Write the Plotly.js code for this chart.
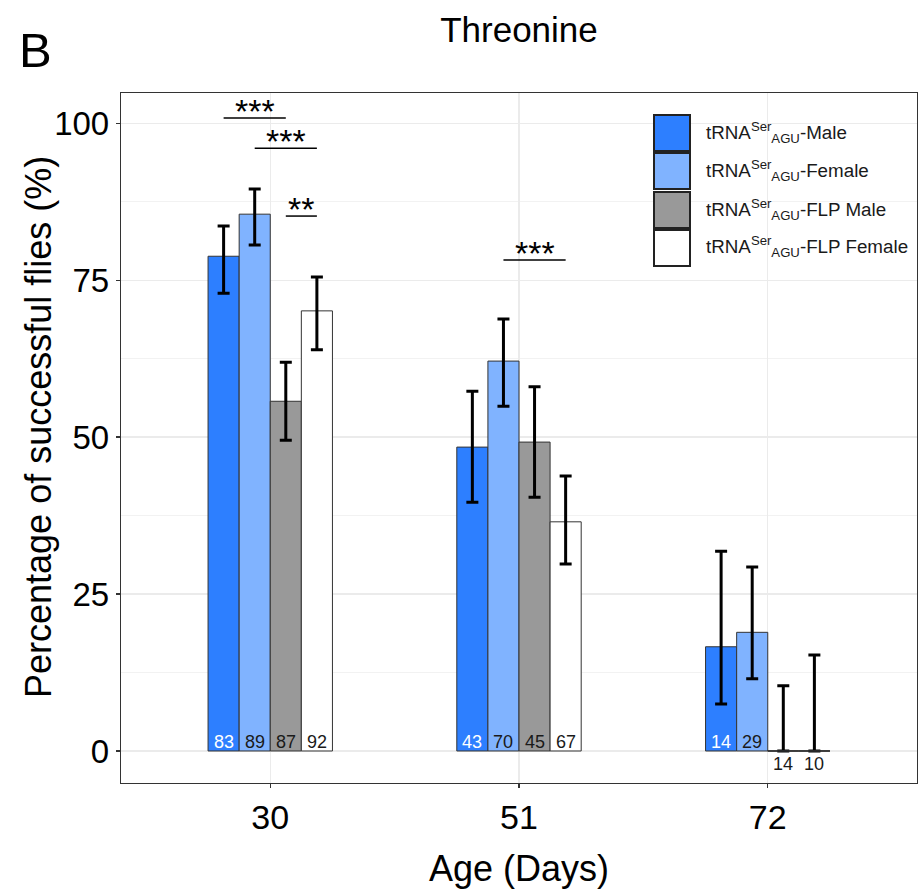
<!DOCTYPE html>
<html>
<head>
<meta charset="utf-8">
<script src="https://cdn.plot.ly/plotly-3.0.1.min.js"></script>
<style>html,body{margin:0;padding:0;background:#fff;}#chart{width:918px;height:893px;}</style>
</head>
<body>
<div id="chart"></div>
<script>
// ---- data ----
var ages = ['30', '51', '72'];
var groupNames = ['tRNA<sup>Ser</sup><sub>AGU</sub>-Male', 'tRNA<sup>Ser</sup><sub>AGU</sub>-Female',
                  'tRNA<sup>Ser</sup><sub>AGU</sub>-FLP Male', 'tRNA<sup>Ser</sup><sub>AGU</sub>-FLP Female'];
var maleVals = [78.8, 48.4, 16.6];
var maleLow = [72.9, 39.6, 7.5];
var maleHigh = [83.6, 57.3, 31.8];
var femaleVals = [85.5, 62.1, 18.9];
var femaleLow = [80.6, 54.9, 11.5];
var femaleHigh = [89.5, 68.8, 29.3];
var flpMaleVals = [55.7, 49.2, 0];
var flpMaleLow = [49.5, 40.4, 0];
var flpMaleHigh = [61.9, 58.0, 10.4];
var flpFemaleVals = [70.1, 36.5, 0];
var flpFemaleLow = [63.9, 29.8, 0];
var flpFemaleHigh = [75.5, 43.8, 15.3];
var maleN = [83, 43, 14];
var femaleN = [89, 70, 29];
var flpMaleN = [87, 45, 14];
var flpFemaleN = [92, 67, 10];
// significance: [age index, group a, group b, bracket height, label]
var sigAge = [0, 0, 0, 1];
var sigFrom = [0, 1, 2, 1];
var sigTo = [2, 3, 3, 3];
var sigY = [100.8, 96.0, 85.2, 78.2];
var sigLabel = ['***', '***', '**', '***'];

// ---- styles ----
var colors = ['#2D7FFF', '#80B3FF', '#999999', '#FFFFFF'];
var labelColors = ['#FFFFFF', '#1a1a1a', '#1a1a1a', '#1a1a1a'];
var FONT = 'Liberation Sans, Arial, Helvetica, sans-serif';
var bargap = 0.5;
var nG = 4;
var barW = (1 - bargap) / nG;
function off(j) { return -(1 - bargap) / 2 + barW * (j + 0.5); }

var vals = [maleVals, femaleVals, flpMaleVals, flpFemaleVals];
var lows = [maleLow, femaleLow, flpMaleLow, flpFemaleLow];
var highs = [maleHigh, femaleHigh, flpMaleHigh, flpFemaleHigh];
var ns = [maleN, femaleN, flpMaleN, flpFemaleN];

var traces = [];
for (var g = 0; g < nG; g++) {
  traces.push({
    type: 'bar', x: ages, y: vals[g], name: groupNames[g],
    marker: {color: colors[g], line: {color: '#333333', width: 1}},
    error_y: {type: 'data', symmetric: false,
      array: highs[g].map(function (h, i) { return h - vals[g][i]; }),
      arrayminus: lows[g].map(function (l, i) { return vals[g][i] - l; }),
      color: '#000000', thickness: 3, width: 6},
    showlegend: false, hoverinfo: 'x+y'
  });
}

var PL = 121, PR = 917, PT = 93, PB = 783;
function pxX(p) { return (p - PL) / (PR - PL); }
function pxY(p) { return (PB - p) / (PB - PT); }

var shapes = [], annotations = [];
// n labels
for (var g2 = 0; g2 < nG; g2++) {
  for (var i = 0; i < ages.length; i++) {
    var zero = vals[g2][i] === 0;
    annotations.push({
      xref: 'x', yref: 'y', x: i + off(g2), y: 0,
      text: String(ns[g2][i]), showarrow: false,
      yanchor: zero ? 'top' : 'bottom', yshift: zero ? -1 : -3,
      font: {family: FONT, size: 18, color: zero ? '#1a1a1a' : labelColors[g2]}
    });
    if (zero) {
      shapes.push({type: 'line', xref: 'x', yref: 'y',
        x0: i + off(g2) - barW / 2, x1: i + off(g2) + barW / 2, y0: 0, y1: 0,
        line: {color: '#333333', width: 1.5}});
    }
  }
}
// significance brackets
for (var s = 0; s < sigY.length; s++) {
  var xa = sigAge[s] + off(sigFrom[s]), xb = sigAge[s] + off(sigTo[s]);
  shapes.push({type: 'line', xref: 'x', yref: 'y', x0: xa, x1: xb, y0: sigY[s], y1: sigY[s],
    line: {color: '#000000', width: 1.5}});
  annotations.push({xref: 'x', yref: 'y', x: (xa + xb) / 2, y: sigY[s], text: sigLabel[s],
    showarrow: false, yanchor: 'bottom', yshift: -14,
    font: {family: FONT, size: 34, color: '#000000'}});
}
// legend (drawn manually for large keys)
var legTop = [115, 153, 192, 230];
for (var k = 0; k < nG; k++) {
  shapes.push({type: 'rect', xref: 'paper', yref: 'paper',
    x0: pxX(654), x1: pxX(690), y0: pxY(legTop[k]), y1: pxY(legTop[k] + 36),
    fillcolor: colors[k], line: {color: '#222222', width: 2}});
  annotations.push({xref: 'paper', yref: 'paper', x: pxX(704), y: pxY(legTop[k] + 17),
    xanchor: 'left', yanchor: 'middle', showarrow: false, text: groupNames[k],
    font: {family: FONT, size: 18.8, color: '#1a1a1a'}});
}
// panel tag
annotations.push({xref: 'paper', yref: 'paper', x: pxX(35), y: pxY(50), xanchor: 'center', yanchor: 'middle',
  text: 'B', showarrow: false, font: {family: FONT, size: 49, color: '#000000'}});
// y-axis title
annotations.push({xref: 'paper', yref: 'paper', x: pxX(38), y: pxY(427), xanchor: 'center', yanchor: 'middle',
  textangle: -90, text: 'Percentage of successful flies (%)', showarrow: false,
  font: {family: FONT, size: 36, color: '#000000'}});

var layout = {
  width: 918, height: 893,
  margin: {l: PL, r: 918 - PR, t: PT, b: 893 - PB, pad: 0},
  paper_bgcolor: '#ffffff', plot_bgcolor: '#ffffff',
  font: {family: FONT, color: '#000000'},
  title: {text: 'Threonine', x: 0.5, xref: 'paper', y: 1 - 30 / 893, yref: 'container', yanchor: 'middle',
    font: {family: FONT, size: 35, color: '#000000'}},
  barmode: 'group', bargap: bargap, bargroupgap: 0,
  xaxis: {type: 'category', range: [-0.6, 2.6], showgrid: true, gridcolor: '#EBEBEB', gridwidth: 1.2,
    showline: true, mirror: true, linecolor: '#333333', linewidth: 1.2,
    ticks: 'outside', ticklen: 4, tickcolor: '#333333', tickwidth: 1.2,
    tickfont: {family: FONT, size: 34, color: '#000000'},
    title: {text: 'Age (Days)', font: {family: FONT, size: 36, color: '#000000'}, standoff: 20},
    zeroline: false, fixedrange: true},
  yaxis: {range: [-5.1, 104.8], tickvals: [0, 25, 50, 75, 100], showgrid: true, gridcolor: '#EBEBEB', gridwidth: 1.2,
    minor: {tickvals: [12.5, 37.5, 62.5, 87.5], showgrid: true, gridcolor: '#F2F2F2', gridwidth: 1, ticks: ''},
    showline: true, mirror: true, linecolor: '#333333', linewidth: 1.2,
    ticks: 'outside', ticklen: 4, tickcolor: '#333333', tickwidth: 1.2,
    tickfont: {family: FONT, size: 33, color: '#000000'},
    zeroline: false, fixedrange: true},
  shapes: shapes,
  annotations: annotations,
  showlegend: false
};
Plotly.newPlot('chart', traces, layout, {displayModeBar: false, staticPlot: true});
</script>
</body>
</html>
